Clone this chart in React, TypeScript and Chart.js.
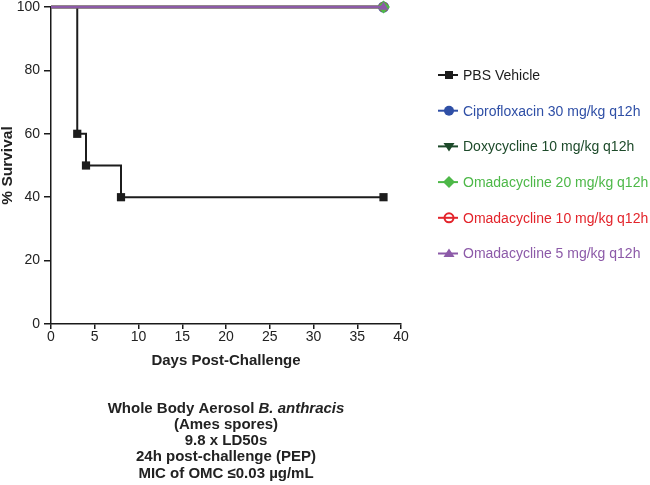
import React, { useEffect, useRef } from 'react';
import { Chart, registerables } from 'chart.js';

Chart.register(...registerables);

// ---- data ----
const pbsDays = [0, 3, 4, 8, 38];
const pbsSurvival = [100, 60, 50, 40, 40];
const treatedDays = [0, 38];
const ciproSurvival = [100, 100];
const doxySurvival = [100, 100];
const omc20Survival = [100, 100];
const omc10Survival = [100, 100];
const omc5Survival = [100, 100];

const seriesNames = [
  'PBS Vehicle',
  'Ciprofloxacin 30 mg/kg q12h',
  'Doxycycline 10 mg/kg q12h',
  'Omadacycline 20 mg/kg q12h',
  'Omadacycline 10 mg/kg q12h',
  'Omadacycline 5 mg/kg q12h',
];
const xTickValues = [0, 5, 10, 15, 20, 25, 30, 35, 40];
const yTickValues = [0, 20, 40, 60, 80, 100];
const xTitle = 'Days Post-Challenge';
const yTitle = '% Survival';
const footerLines: { text: string; italic?: boolean }[][] = [
  [{ text: 'Whole Body Aerosol ' }, { text: 'B. anthracis', italic: true }],
  [{ text: '(Ames spores)' }],
  [{ text: '9.8 x LD50s' }],
  [{ text: '24h post-challenge (PEP)' }],
  [{ text: 'MIC of OMC \u22640.03 \u00b5g/mL' }],
];

const FONT = "'Liberation Sans', Arial, Helvetica, sans-serif";

type Marker = 'rect' | 'circle' | 'triDown' | 'diamond' | 'openCircle' | 'triangle';
const seriesStyle: { color: string; marker: Marker; order: number }[] = [
  { color: '#1c1c1c', marker: 'rect', order: 5 },
  { color: '#2f4fa6', marker: 'circle', order: 3 },
  { color: '#1d4a2a', marker: 'triDown', order: 4 },
  { color: '#4db848', marker: 'diamond', order: 1 },
  { color: '#e3242b', marker: 'openCircle', order: 2 },
  { color: '#8c5aa8', marker: 'triangle', order: 0 },
];

function toPoints(xs: number[], ys: number[]) {
  return xs.map((x, i) => ({ x, y: ys[i] }));
}

function drawMarker(ctx: CanvasRenderingContext2D, m: Marker, x: number, y: number, color: string) {
  ctx.save();
  ctx.fillStyle = color;
  ctx.strokeStyle = color;
  ctx.lineWidth = 2;
  ctx.beginPath();
  switch (m) {
    case 'rect':
      ctx.rect(x - 4, y - 4, 8, 8);
      ctx.fill();
      break;
    case 'circle':
      ctx.arc(x, y, 5, 0, Math.PI * 2);
      ctx.fill();
      break;
    case 'openCircle':
      ctx.arc(x, y, 4.5, 0, Math.PI * 2);
      ctx.fillStyle = '#fff';
      ctx.fill();
      ctx.stroke();
      ctx.beginPath();
      ctx.moveTo(x - 5, y);
      ctx.lineTo(x + 5, y);
      ctx.stroke();
      break;
    case 'diamond':
      ctx.moveTo(x, y - 6);
      ctx.lineTo(x + 6, y);
      ctx.lineTo(x, y + 6);
      ctx.lineTo(x - 6, y);
      ctx.closePath();
      ctx.fill();
      break;
    case 'triDown':
      ctx.moveTo(x - 5.5, y - 3.5);
      ctx.lineTo(x + 5.5, y - 3.5);
      ctx.lineTo(x, y + 5);
      ctx.closePath();
      ctx.fill();
      break;
    case 'triangle':
      ctx.moveTo(x - 5.5, y + 3.5);
      ctx.lineTo(x + 5.5, y + 3.5);
      ctx.lineTo(x, y - 5);
      ctx.closePath();
      ctx.fill();
      break;
  }
  ctx.restore();
}

const pointStyleMap: Record<Marker, any> = {
  rect: 'rect',
  circle: 'circle',
  triDown: 'triangle',
  diamond: 'rectRot',
  openCircle: 'circle',
  triangle: 'triangle',
};

const legendPlugin = {
  id: 'customLegend',
  afterDraw(chart: any) {
    const { ctx, chartArea } = chart;
    const x0 = chartArea.right + 37;
    const rowGap = 35.7;
    const yStart = 75;
    ctx.save();
    ctx.font = `14px ${FONT}`;
    ctx.textBaseline = 'middle';
    ctx.textAlign = 'left';
    seriesNames.forEach((name, i) => {
      const y = yStart + i * rowGap;
      const st = seriesStyle[i];
      ctx.strokeStyle = st.color;
      ctx.lineWidth = 2;
      ctx.beginPath();
      ctx.moveTo(x0, y);
      ctx.lineTo(x0 + 20, y);
      ctx.stroke();
      drawMarker(ctx, st.marker, x0 + 11, y, st.color);
      ctx.fillStyle = st.color;
      ctx.fillText(name, x0 + 25, y + 1);
    });
    ctx.restore();
  },
};

const footerPlugin = {
  id: 'footerText',
  afterDraw(chart: any) {
    const { ctx, chartArea } = chart;
    const cx = (chartArea.left + chartArea.right) / 2;
    const y0 = 409;
    const lh = 16.1;
    ctx.save();
    ctx.fillStyle = '#222';
    ctx.textBaseline = 'middle';
    ctx.textAlign = 'left';
    footerLines.forEach((parts, i) => {
      const y = y0 + i * lh;
      const fonts = parts.map((p) => (p.italic ? `italic bold 15px ${FONT}` : `bold 15px ${FONT}`));
      let total = 0;
      const widths = parts.map((p, k) => {
        ctx.font = fonts[k];
        const w = ctx.measureText(p.text).width;
        total += w;
        return w;
      });
      let x = cx - total / 2;
      parts.forEach((p, k) => {
        ctx.font = fonts[k];
        ctx.fillText(p.text, x, y);
        x += widths[k];
      });
    });
    ctx.restore();
  },
};

export default function App() {
  const ref = useRef<HTMLCanvasElement | null>(null);
  useEffect(() => {
    document.body.style.margin = '0';
    const canvas = ref.current;
    if (!canvas) return;
    const allSeries = [
      toPoints(pbsDays, pbsSurvival),
      toPoints(treatedDays, ciproSurvival),
      toPoints(treatedDays, doxySurvival),
      toPoints(treatedDays, omc20Survival),
      toPoints(treatedDays, omc10Survival),
      toPoints(treatedDays, omc5Survival),
    ];
    const datasets = allSeries.map((pts, i) => {
      const st = seriesStyle[i];
      const endR = st.marker === 'openCircle' ? 4 : st.marker === 'diamond' ? 6.5 : 5.5;
      return {
        label: seriesNames[i],
        data: pts,
        borderColor: st.color,
        backgroundColor: st.marker === 'openCircle' ? '#ffffff' : st.color,
        pointBorderColor: st.color,
        borderWidth: i === 0 ? 2 : 2.5,
        pointBorderWidth: st.marker === 'openCircle' ? 2 : 0,
        stepped: 'before' as const,
        pointStyle: pointStyleMap[st.marker],
        pointRotation: st.marker === 'triDown' ? 180 : 0,
        pointRadius: pts.map((p, k) => (i === 0 ? (k === 0 ? 0 : 5.8) : k === pts.length - 1 ? endR : 0)),
        pointHoverRadius: 0,
        clip: false as any,
        order: st.order,
        fill: false,
      };
    });
    const chart = new Chart(canvas, {
      type: 'line',
      data: { datasets },
      options: {
        animation: false,
        responsive: false,
        maintainAspectRatio: false,
        events: [],
        layout: { padding: { top: 7, right: 249, left: 0, bottom: 0 } },
        plugins: {
          legend: { display: false },
          tooltip: { enabled: false },
          title: { display: false },
        },
        scales: {
          x: {
            type: 'linear',
            min: 0,
            max: 40,
            afterFit: (s: any) => {
              s.height = 161;
              s.paddingLeft = 0;
              s.paddingRight = 0;
            },
            afterBuildTicks: (s: any) => {
              s.ticks = xTickValues.map((v) => ({ value: v }));
            },
            ticks: {
              font: { family: FONT, size: 14 },
              color: '#222',
              padding: 0,
              maxRotation: 0,
              autoSkip: false,
            },
            grid: {
              display: true,
              drawOnChartArea: false,
              drawTicks: true,
              tickLength: 5,
              color: '#1a1a1a',
              lineWidth: 1.5,
            },
            border: { display: true, color: '#1a1a1a', width: 1.5 },
            title: {
              display: true,
              text: xTitle,
              color: '#222',
              font: { family: FONT, size: 15, weight: 'bold' },
              padding: { top: 0, bottom: 115 },
            },
          },
          y: {
            type: 'linear',
            min: 0,
            max: 100,
            afterFit: (s: any) => {
              s.width = 51;
              s.paddingTop = 0;
              s.paddingBottom = 0;
            },
            afterBuildTicks: (s: any) => {
              s.ticks = yTickValues.map((v) => ({ value: v }));
            },
            ticks: {
              font: { family: FONT, size: 14, lineHeight: 1 },
              color: '#222',
              padding: 4,
              autoSkip: false,
            },
            grid: {
              display: true,
              drawOnChartArea: false,
              drawTicks: true,
              tickLength: 7,
              color: '#1a1a1a',
              lineWidth: 1.5,
            },
            border: { display: true, color: '#1a1a1a', width: 1.5 },
            title: {
              display: true,
              text: yTitle,
              color: '#222',
              font: { family: FONT, size: 15.5, weight: 'bold', lineHeight: 1 },
              padding: { top: 0, bottom: 0 },
            },
          },
        },
      },
      plugins: [legendPlugin, footerPlugin],
    });
    return () => chart.destroy();
  }, []);
  return (
    <div style={{ width: 650, height: 485 }}>
      <canvas ref={ref} width={650} height={485} style={{ display: 'block', width: 650, height: 485 }} />
    </div>
  );
}
